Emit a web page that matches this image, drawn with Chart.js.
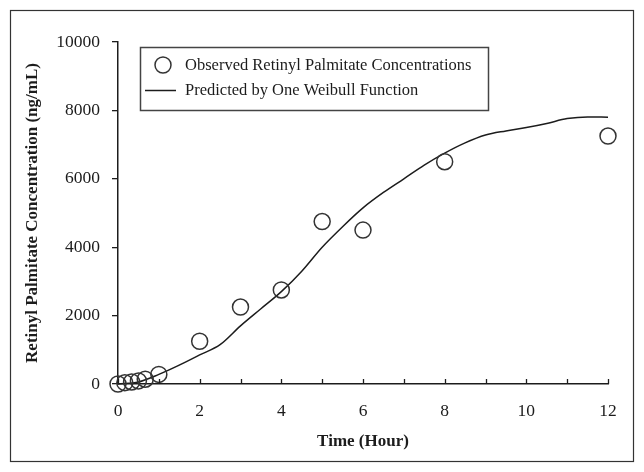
<!DOCTYPE html>
<html><head><meta charset="utf-8">
<script src="https://cdn.jsdelivr.net/npm/chart.js@4.4.1/dist/chart.umd.min.js"></script>
<style>html,body{margin:0;padding:0;background:#fff}#wrap{width:644px;height:472px;position:relative}</style>
</head><body><div id="wrap"><canvas id="c" width="644" height="472"></canvas></div>
<script>
const observedLabel = 'Observed Retinyl Palmitate Concentrations';
const predictedLabel = 'Predicted by One Weibull Function';
const observedTimes = [0, 0.167, 0.333, 0.5, 0.667, 1, 2, 3, 4, 5, 6, 8, 12];
const observedValues = [0, 40, 60, 90, 140, 280, 1250, 2250, 2750, 4750, 4500, 6500, 7250];
const predictedTimes = [0, 0.5, 1, 1.5, 2, 2.5, 3, 3.5, 4, 4.5, 5, 5.5, 6, 6.5, 7, 7.5, 8, 8.5, 9, 9.5, 10, 10.5, 11, 11.5, 12];
const predictedValues = [0, 60, 280, 550, 850, 1150, 1700, 2200, 2700, 3300, 4000, 4600, 5150, 5600, 6000, 6400, 6750, 7050, 7280, 7400, 7500, 7620, 7760, 7810, 7800];
const xTickValues = [0, 2, 4, 6, 8, 10, 12];
const yTickValues = [0, 2000, 4000, 6000, 8000, 10000];
const xTitle = 'Time (Hour)';
const yTitle = 'Retinyl Palmitate Concentration (ng/mL)';

const INK = '#1c1c1c';
const FONT = '"Liberation Serif", "Times New Roman", serif';

const extras = {
  id: 'extras',
  afterDraw(chart) {
    const ctx = chart.ctx;
    const xs = chart.scales.x, ca = chart.chartArea;
    ctx.save();
    // inward x tick marks every hour
    ctx.strokeStyle = INK; ctx.lineWidth = 1.3;
    xs.ticks.forEach(t => {
      const px = Math.round(xs.getPixelForValue(t.value)) + 0.5;
      ctx.beginPath(); ctx.moveTo(px, ca.bottom); ctx.lineTo(px, ca.bottom - 5); ctx.stroke();
    });
    // axis titles
    ctx.fillStyle = INK;
    ctx.font = 'bold 17px ' + FONT;
    ctx.textAlign = 'center'; ctx.textBaseline = 'middle';
    ctx.fillText(xTitle, (ca.left + ca.right) / 2, 442);
    ctx.save();
    ctx.translate(33, (ca.top + ca.bottom) / 2);
    ctx.rotate(-Math.PI / 2);
    ctx.fillText(yTitle, 0, 0);
    ctx.restore();
    // legend
    ctx.strokeStyle = '#444'; ctx.lineWidth = 1.5;
    ctx.strokeRect(140.5, 47.5, 348, 63);
    ctx.strokeStyle = '#333'; ctx.lineWidth = 1.5;
    ctx.beginPath(); ctx.arc(163, 65, 8, 0, Math.PI * 2); ctx.stroke();
    ctx.strokeStyle = INK; ctx.lineWidth = 1.5;
    ctx.beginPath(); ctx.moveTo(145, 90.5); ctx.lineTo(176, 90.5); ctx.stroke();
    ctx.font = '16.5px ' + FONT; ctx.textAlign = 'left'; ctx.fillStyle = INK;
    ctx.fillText(chart.data.datasets[0].label, 185, 66);
    ctx.fillText(chart.data.datasets[1].label, 185, 91);
    // outer frame
    ctx.strokeStyle = '#333'; ctx.lineWidth = 1.2;
    ctx.strokeRect(10.5, 10.5, 623, 451);
    ctx.restore();
  }
};

new Chart(document.getElementById('c'), {
  type: 'scatter',
  data: {
    datasets: [
      {
        label: observedLabel,
        data: observedTimes.map((t, i) => ({x: t, y: observedValues[i]})),
        showLine: false,
        clip: false,
        pointRadius: 8,
        pointHoverRadius: 8,
        pointBorderWidth: 1.5,
        pointBorderColor: '#333',
        pointBackgroundColor: 'rgba(0,0,0,0)',
        order: 1
      },
      {
        label: predictedLabel,
        data: predictedTimes.map((t, i) => ({x: t, y: predictedValues[i]})),
        showLine: true,
        clip: false,
        borderColor: INK,
        borderWidth: 1.5,
        pointRadius: 0,
        tension: 0.3,
        cubicInterpolationMode: 'monotone',
        order: 2
      }
    ]
  },
  options: {
    responsive: false,
    animation: false,
    devicePixelRatio: 1,
    layout: {padding: {top: 42, right: 36, left: 0, bottom: 0}},
    plugins: {legend: {display: false}, tooltip: {enabled: false}},
    scales: {
      x: {
        type: 'linear', min: 0, max: 12,
        ticks: {
          stepSize: 1, autoSkip: false, maxRotation: 0, padding: 9,
          color: INK, font: {family: FONT, size: 17.5},
          callback: v => xTickValues.includes(v) ? String(v) : ''
        },
        grid: {display: false},
        border: {display: true, color: INK, width: 1.5},
        afterFit: s => { s.height = 88; }
      },
      y: {
        type: 'linear', min: 0, max: 10000,
        afterBuildTicks: s => { s.ticks = yTickValues.map(v => ({value: v})); },
        ticks: {
          padding: 12, color: INK, font: {family: FONT, size: 17.5},
          callback: v => String(v)
        },
        grid: {display: true, drawOnChartArea: false, drawTicks: true, tickLength: 6, color: INK, lineWidth: 1.3},
        border: {display: true, color: INK, width: 1.5},
        afterFit: s => { s.width = 118; }
      }
    }
  },
  plugins: [extras]
});
</script></body></html>
